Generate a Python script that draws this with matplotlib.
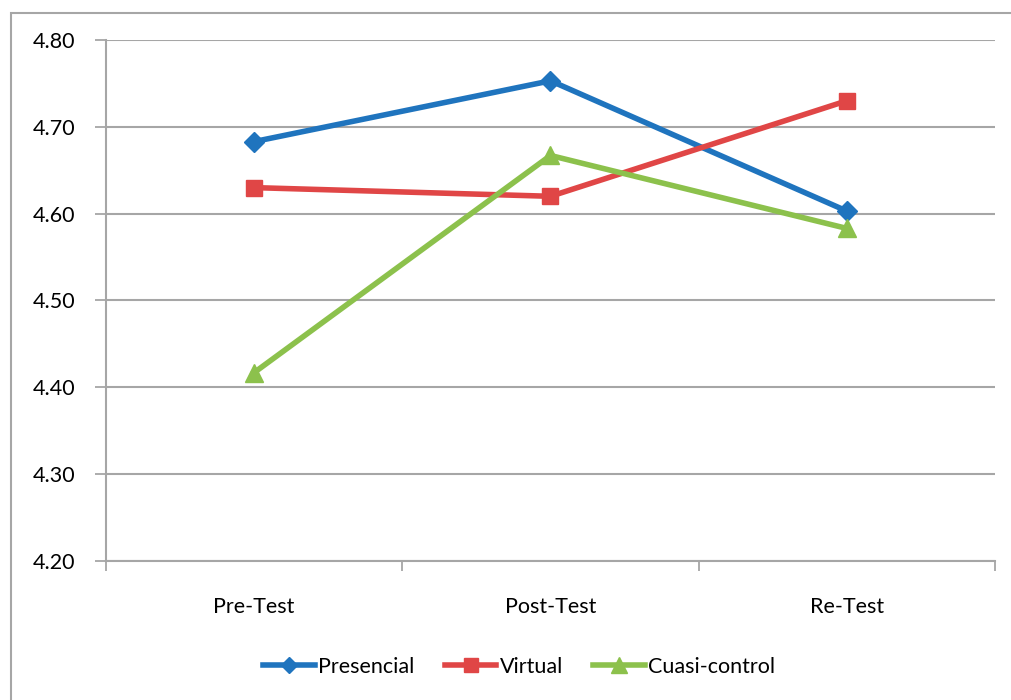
import matplotlib.pyplot as plt
from matplotlib.patches import Rectangle
from matplotlib.ticker import FixedLocator

categories = ['Pre-Test', 'Post-Test', 'Re-Test']
presencial = [4.683, 4.753, 4.603]
virtual = [4.630, 4.620, 4.730]
cuasi = [4.417, 4.667, 4.583]
yticks = [4.20, 4.30, 4.40, 4.50, 4.60, 4.70, 4.80]

plt.rcParams['font.family'] = ['Lato', 'DejaVu Sans']

fig = plt.figure(figsize=(10.12, 7), dpi=100)
fig.patches.append(Rectangle((11 / 1012, -0.1), 1.2, 1.1 - 13 / 700,
                             transform=fig.transFigure, fill=False,
                             edgecolor='#a6a6a6', linewidth=1.5))
ax = fig.add_axes([106 / 1012, 139 / 700, 889 / 1012, 521 / 700])

x = range(len(categories))
ax.plot(x, presencial, color='#1f74be', lw=4, marker='D', ms=10, label='Presencial')
ax.plot(x, virtual, color='#e04646', lw=4, marker='s', ms=12, label='Virtual')
ax.plot(x, cuasi, color='#8cc14c', lw=4, marker='^', ms=13, label='Cuasi-control')

ax.set_xlim(-0.5, 2.5)
ax.set_ylim(4.20, 4.80)
ax.set_yticks(yticks)
ax.set_yticklabels([f'{v:.2f}' for v in yticks])
ax.set_xticks(list(x))
ax.set_xticklabels(categories)
ax.xaxis.set_minor_locator(FixedLocator([-0.5, 0.5, 1.5, 2.5]))
ax.tick_params(axis='x', which='major', length=0, pad=26, labelsize=15.5)
ax.tick_params(axis='x', which='minor', length=7, color='#a6a6a6', width=1.3)
ax.tick_params(axis='y', length=8, color='#a6a6a6', width=1.3, labelsize=15.5, pad=14)

ax.grid(axis='y', color='#a6a6a6', lw=1.5)
ax.set_axisbelow(True)
for side in ['top', 'right']:
    ax.spines[side].set_visible(False)
for side in ['left', 'bottom']:
    ax.spines[side].set_color('#a6a6a6')
    ax.spines[side].set_linewidth(1.5)

fig.legend(loc='center', bbox_to_anchor=(0.513, 1 - 667 / 700), ncol=3, frameon=False,
           fontsize=15.5, handlelength=2.4, handletextpad=0.15, columnspacing=1.4,
           markerscale=0.85)

fig.savefig('out.png', dpi=100)
